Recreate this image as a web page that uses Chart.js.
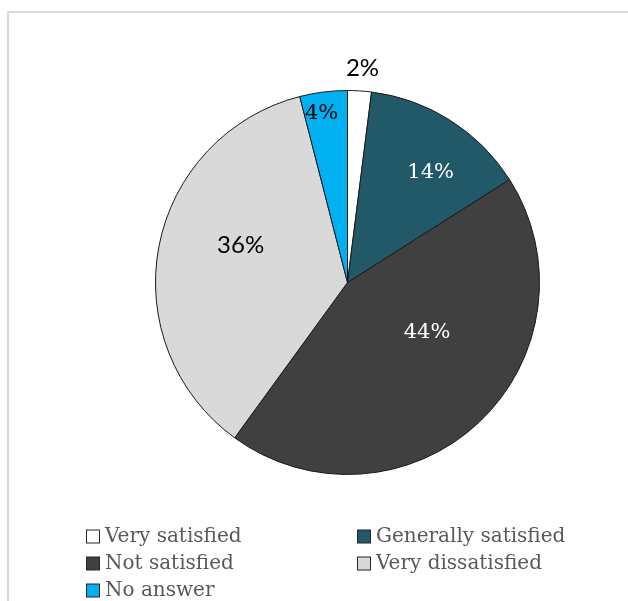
<!DOCTYPE html>
<html>
<head>
<meta charset="utf-8">
<script src="https://cdn.jsdelivr.net/npm/chart.js@4/dist/chart.umd.min.js"></script>
<style>
  html, body { margin: 0; padding: 0; background: #fff; overflow: hidden; width: 628px; height: 601px; }
  #wrap { position: relative; width: 628px; height: 601px; overflow: hidden; }
  #frame { position: absolute; left: 7px; top: 11px; width: 660px; height: 640px; border: 2px solid #d9d9d9; }
  #satisfactionChart { position: absolute; left: 0; top: 0; }
</style>
</head>
<body>
<div id="wrap">
  <div id="frame"></div>
  <canvas id="satisfactionChart" width="628" height="601"></canvas>
</div>
<script>
const categories = ['Very satisfied', 'Generally satisfied', 'Not satisfied', 'Very dissatisfied', 'No answer'];
const shares = [2, 14, 44, 36, 4];
const sliceColors = ['#ffffff', '#215968', '#404040', '#d9d9d9', '#00b0f0'];

// label look and placement: angle nudge (deg) from the slice middle, distance as fraction of radius
const labelStyle = [
    { color: '#000000', font: '24px Lato', da: 0.4, r: 1.12 },
    { color: '#ffffff', font: '21px "DejaVu Serif"', da: 4.8, r: 0.716 },
    { color: '#ffffff', font: '21px "DejaVu Serif"', da: -14.5, r: 0.49 },
    { color: '#000000', font: '24px Lato', da: 8.5, r: 0.59 },
    { color: '#000000', font: '21px "DejaVu Serif"', da: -1.5, r: 0.89 }
];

const sliceLabels = {
    id: 'sliceLabels',
    afterDatasetsDraw(chart) {
        const ctx = chart.ctx;
        const meta = chart.getDatasetMeta(0);
        ctx.save();
        ctx.textAlign = 'center';
        ctx.textBaseline = 'middle';
        meta.data.forEach((arc, i) => {
            const p = arc.getProps(['x', 'y', 'startAngle', 'endAngle', 'outerRadius'], true);
            const s = labelStyle[i];
            const mid = (p.startAngle + p.endAngle) / 2 + s.da * Math.PI / 180;
            ctx.font = s.font;
            ctx.fillStyle = s.color;
            ctx.fillText(shares[i] + '%', p.x + Math.cos(mid) * p.outerRadius * s.r, p.y + Math.sin(mid) * p.outerRadius * s.r);
        });
        ctx.restore();
    }
};

// two-column legend under the pie
const gridLegend = {
    id: 'gridLegend',
    afterDraw(chart) {
        const ctx = chart.ctx;
        const cols = [86, 357], top = 536, rowH = 27, box = 13;
        ctx.save();
        ctx.font = '20px "DejaVu Serif"';
        ctx.textBaseline = 'middle';
        chart.data.labels.forEach((label, i) => {
            const x = cols[i % 2];
            const y = top + Math.floor(i / 2) * rowH;
            ctx.fillStyle = chart.data.datasets[0].backgroundColor[i];
            ctx.fillRect(x + 0.5, y - box / 2 + 0.5, box, box);
            ctx.strokeStyle = '#262626';
            ctx.lineWidth = 1;
            ctx.strokeRect(x + 0.5, y - box / 2 + 0.5, box, box);
            ctx.fillStyle = '#595959';
            ctx.fillText(label, x + box + 6, y + 1);
        });
        ctx.restore();
    }
};

new Chart(document.getElementById('satisfactionChart'), {
    type: 'pie',
    data: {
        labels: categories,
        datasets: [{ data: shares, backgroundColor: sliceColors, borderColor: '#1a1a1a', borderWidth: 1 }]
    },
    options: {
        responsive: false,
        animation: false,
        layout: { padding: { left: 155, right: 88, top: 90, bottom: 126 } },
        plugins: { legend: { display: false }, tooltip: { enabled: false } }
    },
    plugins: [sliceLabels, gridLegend]
});
</script>
</body>
</html>
